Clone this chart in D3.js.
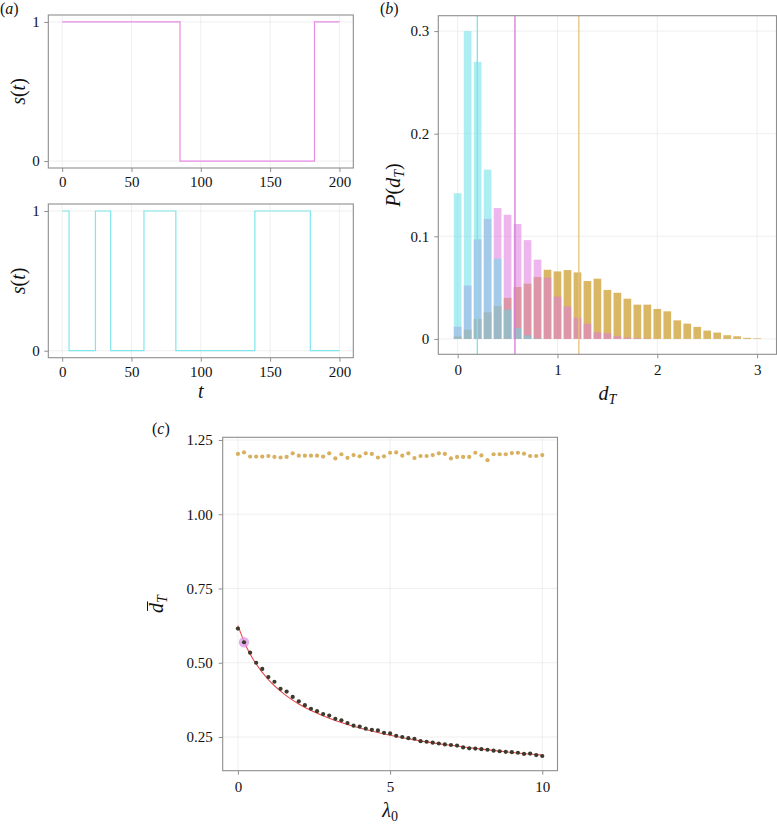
<!DOCTYPE html>
<html><head><meta charset="utf-8">
<script src="https://cdn.jsdelivr.net/npm/d3@7"></script>
<style>
body{margin:0;background:#fff}
svg{display:block}
text{font-family:"Liberation Serif","DejaVu Serif","Times New Roman",serif;fill:#111}
</style>
</head><body>
<svg id="chart" width="777" height="828"></svg>
<script>
// ---------------- data ----------------
// panel (a): switching signals s(t)
const tTicks = [0, 50, 100, 150, 200];
const sTicks = [0, 1];
const switchTimesTop = [0, 85, 182, 200];
const statesTop      = [1, 0, 1, 1];
const switchTimesBot = [0, 5, 24, 35, 59, 82, 139, 179, 200];
const statesBot      = [1, 0, 1, 0, 1, 0, 1, 0, 0];

// panel (b): distributions P(d_T)
const binCenters = [0,0.1,0.2,0.3,0.4,0.5,0.6,0.7,0.8,0.9,1.0,1.1,1.2,1.3,1.4,1.5,1.6,1.7,1.8,1.9,2.0,2.1,2.2,2.3,2.4,2.5,2.6,2.7,2.8,2.9,3.0];
const histCyan = [0.142,0.300,0.270,0.165,0.078,0.0285,0.0107,0.0035,0.0005,0,0,0,0,0,0,0,0,0,0,0,0,0,0,0,0,0,0,0,0,0,0];
const histPink = [0.012,0.052,0.097,0.117,0.1275,0.121,0.112,0.0963,0.0772,0.0597,0.0412,0.0317,0.0206,0.0147,0.0065,0.0055,0.0027,0.0014,0.0008,0.0003,0,0,0,0,0,0,0,0,0,0,0];
const histGold = [0.0025,0.009,0.0195,0.026,0.032,0.040,0.0506,0.0538,0.0603,0.0674,0.0658,0.0671,0.0648,0.0564,0.0587,0.0477,0.045,0.0392,0.0334,0.0334,0.0292,0.0269,0.0181,0.0149,0.0117,0.0081,0.0062,0.0036,0.0026,0.001,0.0006];
const meanCyan = 0.197, meanPink = 0.574, meanGold = 1.214;
const dTicks = [0, 1, 2, 3];
const pTicks = [0, 0.1, 0.2, 0.3];

// panel (c): mean d_T versus lambda_0
const lambda0 = [0,0.2,0.4,0.6,0.8,1.0,1.2,1.4,1.6,1.8,2.0,2.2,2.4,2.6,2.8,3.0,3.2,3.4,3.6,3.8,4.0,4.2,4.4,4.6,4.8,5.0,5.2,5.4,5.6,5.8,6.0,6.2,6.4,6.6,6.8,7.0,7.2,7.4,7.6,7.8,8.0,8.2,8.4,8.6,8.8,9.0,9.2,9.4,9.6,9.8,10.0];
const dGold = [1.203,1.208,1.194,1.194,1.194,1.196,1.193,1.191,1.193,1.205,1.197,1.197,1.197,1.197,1.194,1.205,1.188,1.202,1.190,1.199,1.195,1.205,1.203,1.191,1.195,1.207,1.208,1.197,1.205,1.189,1.196,1.196,1.199,1.205,1.203,1.188,1.193,1.193,1.193,1.207,1.198,1.182,1.202,1.202,1.202,1.206,1.207,1.204,1.196,1.196,1.199];
const dDark = [0.615,0.569,0.534,0.500,0.479,0.452,0.436,0.412,0.403,0.385,0.370,0.357,0.345,0.337,0.327,0.322,0.311,0.306,0.297,0.288,0.285,0.278,0.274,0.272,0.264,0.262,0.254,0.250,0.246,0.244,0.236,0.234,0.231,0.228,0.225,0.223,0.221,0.215,0.212,0.211,0.209,0.207,0.204,0.202,0.200,0.199,0.197,0.193,0.194,0.189,0.186];
const fitX = [0, 0.25, 0.5, 1, 1.5, 2, 3, 4, 5, 6, 7, 8, 9, 10];
const fitY = [0.625, 0.560, 0.512, 0.443, 0.396, 0.361, 0.313, 0.280, 0.256, 0.237, 0.222, 0.209, 0.198, 0.189];
const highlightLambda = 0.2, highlightD = 0.569;
const lamTicks = [0, 5, 10];
const dbarTicks = [0.25, 0.50, 0.75, 1.00, 1.25];

// ---------------- drawing ----------------
const FONT = '"Liberation Serif","DejaVu Serif","Times New Roman",serif';
const svg = d3.select("#chart");
const GRID = "#ebebeb", BORDER = "#8e8e8e", TICK = "#8e8e8e";
const TICKFS = "15px", TITLEFS = "20px", SUBFS = "14px";

function frame(g, x, y, xt, yt, xfmt, yfmt, opt) {
  const [x0, x1] = x.range(), [y0, y1] = y.range();
  g.append("g").selectAll("line").data(xt).join("line")
    .attr("x1", d => x(d)).attr("x2", d => x(d)).attr("y1", y1).attr("y2", y0)
    .attr("stroke", GRID).attr("stroke-width", 0.8);
  g.append("g").selectAll("line").data(yt).join("line")
    .attr("y1", d => y(d)).attr("y2", d => y(d)).attr("x1", x0).attr("x2", x1)
    .attr("stroke", GRID).attr("stroke-width", 0.8);
  const ax = g.append("g").attr("transform", `translate(0,${y0})`)
    .call(d3.axisBottom(x).tickValues(xt).tickFormat(xfmt).tickSize(4).tickPadding(opt.xpad));
  const ay = g.append("g").attr("transform", `translate(${x0},0)`)
    .call(d3.axisLeft(y).tickValues(yt).tickFormat(yfmt).tickSize(4).tickPadding(opt.ypad));
  [ax, ay].forEach(a => {
    a.attr("font-family", FONT).attr("font-size", TICKFS);
    a.select(".domain").remove();
    a.selectAll(".tick line").attr("stroke", TICK);
    a.selectAll(".tick text").style("font-family", FONT)
      .style("font-size", TICKFS).attr("fill", "#111");
  });
}
function border(g, x, y) {
  const [x0, x1] = x.range(), [y0, y1] = y.range();
  g.append("rect").attr("x", x0).attr("y", y1).attr("width", x1 - x0).attr("height", y0 - y1)
    .attr("fill", "none").attr("stroke", BORDER).attr("stroke-width", 1.1);
}

// ----- panel (a) -----
const xA = d3.scaleLinear().domain([-10, 210]).range([48.3, 353.3]);
function signalPanel(top, bottom, times, states, color) {
  const y = d3.scaleLinear().domain([-0.05, 1.05]).range([bottom, top]);
  const g = svg.append("g");
  frame(g, xA, y, tTicks, sTicks, d3.format("d"), d3.format("d"), {xpad: 4.5, ypad: 4.5});
  const pts = times.map((t, i) => [t, states[i]]);
  g.append("path").datum(pts)
    .attr("d", d3.line().x(d => xA(d[0])).y(d => y(d[1])).curve(d3.curveStepAfter))
    .attr("fill", "none").attr("stroke", color).attr("stroke-width", 1.2);
  border(g, xA, y);
  g.append("text").attr("transform", `translate(25,${(top + bottom) / 2}) rotate(-90)`)
    .attr("text-anchor", "middle").style("font-size", TITLEFS)
    .html('<tspan font-style="italic">s</tspan>(<tspan font-style="italic">t</tspan>)');
}
signalPanel(15, 168, switchTimesTop, statesTop, "#e68be6");
signalPanel(204, 357.7, switchTimesBot, statesBot, "#80e6ec");
svg.append("text").attr("x", (48.3 + 353.3) / 2).attr("y", 398).attr("text-anchor", "middle")
  .style("font-size", TITLEFS).style("font-style", "italic").text("t");
svg.append("text").attr("x", 0).attr("y", 14).style("font-size", "16px")
  .html('(<tspan font-style="italic">a</tspan>)');

// ----- panel (b) -----
{
  const x = d3.scaleLinear().domain([-0.194, 3.194]).range([438.3, 776.5]);
  const y = d3.scaleLinear().domain([-0.015, 0.315]).range([354.3, 15.7]);
  const g = svg.append("g");
  frame(g, x, y, dTicks, pTicks, d3.format("d"), d => d === 0 ? "0" : d3.format(".1f")(d), {xpad: 6, ypad: 5});
  const bw = 0.077;
  const series = [
    {vals: histGold, color: "#c8951c", op: 0.68},
    {vals: histPink, color: "#de7cde", op: 0.55},
    {vals: histCyan, color: "#5cdde6", op: 0.5}
  ];
  series.forEach(s => {
    g.append("g").selectAll("rect").data(binCenters.map((c, i) => [c, s.vals[i]])).join("rect")
      .attr("x", d => x(d[0] - bw / 2)).attr("width", x(bw) - x(0))
      .attr("y", d => y(d[1])).attr("height", d => y(0) - y(d[1]))
      .attr("fill", s.color).attr("fill-opacity", s.op);
  });
  [[meanCyan, "#78e4ea"], [meanPink, "#d67ad6"], [meanGold, "#e3c47c"]].forEach(([m, c]) => {
    g.append("line").attr("x1", x(m)).attr("x2", x(m)).attr("y1", y.range()[1]).attr("y2", y.range()[0])
      .attr("stroke", c).attr("stroke-width", 1.3);
  });
  border(g, x, y);
  g.append("text").attr("transform", `translate(400,${(15.7 + 354.3) / 2}) rotate(-90)`)
    .attr("text-anchor", "middle").style("font-size", TITLEFS)
    .html('<tspan font-style="italic">P</tspan>(<tspan font-style="italic">d</tspan><tspan font-style="italic" font-size="' + SUBFS + '" dy="4">T</tspan><tspan dy="-4">)</tspan>');
  g.append("text").attr("x", (438.3 + 776.5) / 2).attr("y", 400).attr("text-anchor", "middle")
    .style("font-size", TITLEFS)
    .html('<tspan font-style="italic">d</tspan><tspan font-style="italic" font-size="' + SUBFS + '" dy="4">T</tspan>');
  svg.append("text").attr("x", 380).attr("y", 14).style("font-size", "16px")
    .html('(<tspan font-style="italic">b</tspan>)');
}

// ----- panel (c) -----
{
  const x = d3.scaleLinear().domain([-0.5, 10.5]).range([222.7, 557.5]);
  const y = d3.scaleLinear().domain([0.1365, 1.259]).range([770.7, 437.3]);
  const g = svg.append("g");
  frame(g, x, y, lamTicks, dbarTicks, d3.format("d"), d3.format(".2f"), {xpad: 6.3, ypad: 6});
  g.append("g").selectAll("circle").data(lambda0.map((l, i) => [l, dGold[i]])).join("circle")
    .attr("cx", d => x(d[0])).attr("cy", d => y(d[1])).attr("r", 2.1).attr("fill", "#d8b060");
  g.append("path").datum(fitX.map((l, i) => [l, fitY[i]]))
    .attr("d", d3.line().x(d => x(d[0])).y(d => y(d[1])).curve(d3.curveMonotoneX))
    .attr("fill", "none").attr("stroke", "#e8474a").attr("stroke-width", 1.1);
  g.append("circle").attr("cx", x(highlightLambda)).attr("cy", y(highlightD)).attr("r", 5.2)
    .attr("fill", "#dc96e6").attr("fill-opacity", 0.75);
  g.append("g").selectAll("circle").data(lambda0.map((l, i) => [l, dDark[i]])).join("circle")
    .attr("cx", d => x(d[0])).attr("cy", d => y(d[1])).attr("r", 2.1).attr("fill", "#3b3a2c");
  border(g, x, y);
  // y title: d-bar with subscript T
  const yt = g.append("g").attr("transform", `translate(163,${(437.3 + 770.7) / 2}) rotate(-90)`);
  const ytText = yt.append("text").attr("text-anchor", "middle").style("font-size", TITLEFS)
    .html('<tspan font-style="italic">d</tspan><tspan font-style="italic" font-size="' + SUBFS + '" dy="4">T</tspan>');
  const node = ytText.node();
  const s0 = node.getStartPositionOfChar(0).x, e0 = node.getEndPositionOfChar(0).x;
  yt.append("line").attr("x1", s0 + 2).attr("x2", e0 + 1.5).attr("y1", -15.5).attr("y2", -15.5)
    .attr("stroke", "#111").attr("stroke-width", 1);
  g.append("text").attr("x", (222.7 + 557.5) / 2).attr("y", 817).attr("text-anchor", "middle")
    .style("font-size", TITLEFS)
    .html('<tspan font-style="italic">λ</tspan><tspan font-size="' + SUBFS + '" dy="4">0</tspan>');
  svg.append("text").attr("x", 152).attr("y", 434).style("font-size", "16px")
    .html('(<tspan font-style="italic">c</tspan>)');
}
</script>
</body></html>
